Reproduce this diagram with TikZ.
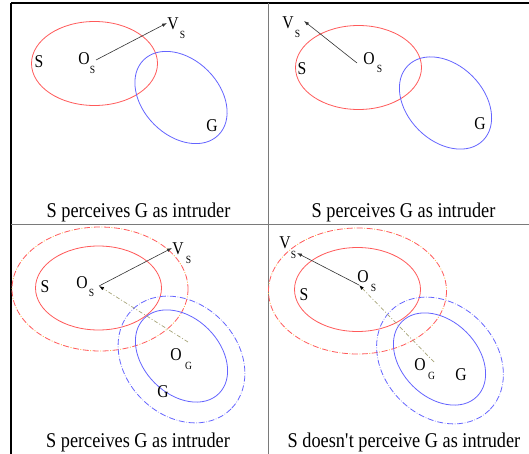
\documentclass[tikz,border=0pt]{standalone}
\usepackage{fontspec}
\newfontfamily\figfont[FakeStretch=0.87]{Liberation Serif}
\usetikzlibrary{arrows.meta}
\definecolor{sred}{HTML}{FF5A5A}
\definecolor{sorange}{HTML}{FFB84A}
\definecolor{gblue}{HTML}{6464FF}
\definecolor{gdot}{HTML}{A8A8FF}
\definecolor{rule}{HTML}{7A7A7A}
\begin{document}
\begin{tikzpicture}[
		x=1pt,y=-1pt,
		lbl/.style={font=\figfont\fontsize{18}{18}\selectfont,inner sep=0pt},
		sub/.style={font=\figfont\fontsize{11}{11}\selectfont,inner sep=0pt},
		capt/.style={font=\figfont\fontsize{21}{21}\selectfont,inner sep=0pt,anchor=base},
		sarea/.style={draw=sred,line width=0.8pt},
		garea/.style={draw=gblue,line width=0.8pt},
		shalo/.style={draw=sred,line width=0.8pt,dash pattern=on 6pt off 4pt,
				postaction={draw=sorange,dash pattern=on 1pt off 9pt,dash phase=2.5pt}},
		ghalo/.style={draw=gblue,line width=0.8pt,dash pattern=on 6pt off 4pt,
				postaction={draw=gdot,dash pattern=on 1pt off 9pt,dash phase=2.5pt}},
		vec/.style={-{Latex[length=5pt,width=3.5pt]},line width=0.6pt,black!80},
		probe/.style={-{Latex[length=5pt,width=3.5pt,black]},line width=0.7pt,olive!35!gray!80,
				dash pattern=on 4pt off 2pt on 1pt off 2pt}]

	\useasboundingbox (0,0) rectangle (529,454);

	\draw[line width=1.8pt] (11,3) -- (529,3);
	\draw[line width=1.3pt] (11,3) -- (11,454);
	\draw[rule,line width=1pt] (268,3) -- (268,454);
	\draw[rule,line width=1pt] (11,224) -- (529,224);

	% top left
	\draw[sarea] (94.5,63.5) ellipse (63 and 42);
	\draw[garea,rotate around={-45:(181,97.5)}] (181,97.5) ellipse (53 and 38);
	\node[lbl] (s1) at (39,62) {S};
	\node[lbl] (o1) at (84,59) {O};
	\node[sub] (o1s) at (92.5,70) {S};
	\node[lbl] (v1) at (173,24) {V};
	\node[sub] (v1s) at (182.5,35) {S};
	\node[lbl] (g1) at (212,126) {G};
	\coordinate (os1) at (96,60);
	\coordinate (vs1) at (167,23);
	\draw[vec] (os1) -- (vs1);
	\node[capt] (c1) at (138.5,218) {S perceives G as intruder};

	% top right
	\draw[sarea] (358.5,67.5) ellipse (63 and 42);
	\draw[garea,rotate around={-45:(445.5,103)}] (445.5,103) ellipse (53 and 38);
	\node[lbl] (v2) at (288,23) {V};
	\node[sub] (v2s) at (297.5,34) {S};
	\node[lbl] (o2) at (369,59) {O};
	\node[sub] (o2s) at (379.5,69) {S};
	\node[lbl] (s2) at (302,69) {S};
	\node[lbl] (g2) at (480,124) {G};
	\coordinate (os2) at (357,63);
	\coordinate (vs2) at (304,21);
	\draw[vec] (os2) -- (vs2);
	\node[capt] (c2) at (403.5,218) {S perceives G as intruder};

	% bottom left
	\draw[shalo] (100,289) ellipse (88 and 62);
	\draw[sarea] (98.5,288) ellipse (63 and 42);
	\draw[ghalo,rotate around={-45:(181.5,359.5)}] (181.5,359.5) ellipse (70 and 56);
	\draw[garea,rotate around={-45:(181.5,356)}] (181.5,356) ellipse (53 and 38);
	\node[lbl] (s3) at (45,287) {S};
	\node[lbl] (o3) at (82,283) {O};
	\node[sub] (o3s) at (91.5,293) {S};
	\node[lbl] (v3) at (178,249) {V};
	\node[sub] (v3s) at (188.5,260) {S};
	\node[lbl] (og3) at (176,355) {O};
	\node[sub] (og3s) at (188.5,366) {G};
	\node[lbl] (g3) at (163,392) {G};
	\coordinate (os3) at (99,286);
	\coordinate (vs3) at (172,248);
	\coordinate (ogc3) at (188,342);
	\draw[vec] (os3) -- (vs3);
	\draw[probe] (ogc3) -- (os3);
	\node[capt] (c3) at (138,447) {S perceives G as intruder};

	% bottom right
	\draw[shalo] (357.5,291) ellipse (89 and 63);
	\draw[sarea] (357.5,289.5) ellipse (63 and 42);
	\draw[ghalo,rotate around={-45:(440,360.5)}] (440,360.5) ellipse (70 and 56);
	\draw[garea,rotate around={-45:(439.5,359)}] (439.5,359) ellipse (53 and 38);
	\node[lbl] (v4) at (285,243) {V};
	\node[sub] (v4s) at (293.5,255) {S};
	\node[lbl] (o4) at (363,277) {O};
	\node[sub] (o4s) at (373.5,288) {S};
	\node[lbl] (s4) at (304,295) {S};
	\node[lbl] (og4) at (420,365) {O};
	\node[sub] (og4s) at (431.5,376) {G};
	\node[lbl] (g4) at (461,375) {G};
	\coordinate (os4) at (359,285);
	\coordinate (vs4) at (297,253);
	\coordinate (ogc4) at (434,362);
	\draw[vec] (os4) -- (vs4);
	\draw[probe] (ogc4) -- (os4);
	\node[capt] (c4) at (404,447) {S doesn\textquotesingle t perceive G as intruder};
\end{tikzpicture}
\end{document}
